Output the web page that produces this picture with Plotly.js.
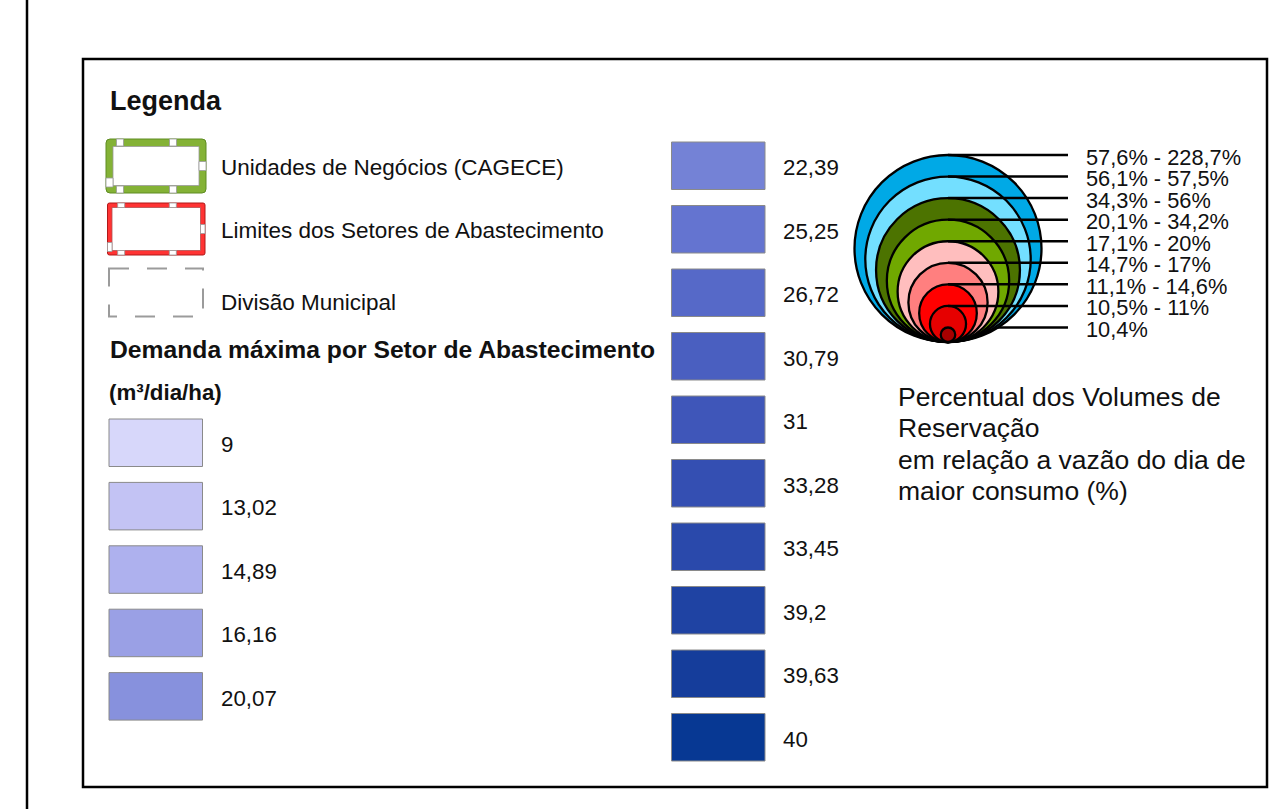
<!DOCTYPE html>
<html>
<head>
<meta charset="utf-8">
<script src="https://cdn.plot.ly/plotly-3.0.1.min.js"></script>
<style>
html,body{margin:0;padding:0;background:#fff;overflow:hidden}
#chart{width:1273px;height:809px}
</style>
</head>
<body>
<div id="chart"></div>
<script>
// ---------------- data ----------------
const legendTitle = 'Legenda';
const boundaryLabels = ['Unidades de Negócios (CAGECE)', 'Limites dos Setores de Abastecimento', 'Divisão Municipal'];
const demandTitle = 'Demanda máxima por Setor de Abastecimento';
const demandUnit = '(m³/dia/ha)';
const demandValues = [9, 13.02, 14.89, 16.16, 20.07, 22.39, 25.25, 26.72, 30.79, 31, 33.28, 33.45, 39.2, 39.63, 40];
const demandColors = ['#D7D7FA', '#C3C3F4', '#AEB1EE', '#9AA0E5', '#8791DD',
                      '#7482D6', '#6474D0', '#5669C8', '#4A5FC0', '#3F56B9',
                      '#344FB2', '#2A49AB', '#1F43A3', '#153D9B', '#073893'];
const reservationClasses = ['57,6% - 228,7%', '56,1% - 57,5%', '34,3% - 56%', '20,1% - 34,2%', '17,1% - 20%',
                            '14,7% - 17%', '11,1% - 14,6%', '10,5% - 11%', '10,4%'];
const reservationColors = ['#00A9E6', '#73DFFF', '#4C7300', '#70A800', '#FFBEBE', '#FF7F7F', '#FF0000', '#E60000', '#A80000'];
const reservationTitle = ['Percentual dos Volumes de', 'Reservação', 'em relação a vazão do dia de', 'maior consumo (%)'];

// ---------------- layout helpers ----------------
const FONT = 'Liberation Sans, Arial, Helvetica, sans-serif';
const shapes = [];
const annotations = [];

function txt(x, y, text, size, bold, boxHeight) {
  const a = {
    xref: 'x', yref: 'y', x: x, y: y, text: bold ? '<b>' + text + '</b>' : text,
    showarrow: false, xanchor: 'left', yanchor: 'middle',
    font: {family: FONT, size: size, color: '#111'}
  };
  if (boxHeight) { a.height = boxHeight; a.valign = 'middle'; }
  annotations.push(a);
}
function rect(x0, y0, x1, y1, fill, lineColor, lineWidth, dash) {
  shapes.push({type: 'rect', xref: 'x', yref: 'y', x0: x0, y0: y0, x1: x1, y1: y1,
    fillcolor: fill, line: {color: lineColor, width: lineWidth, dash: dash || 'solid'}, layer: 'above'});
}
function roundRect(x0, y0, x1, y1, r, fill, lineColor, lineWidth) {
  const p = `M${x0 + r},${y0} L${x1 - r},${y0} Q${x1},${y0} ${x1},${y0 + r} L${x1},${y1 - r} Q${x1},${y1} ${x1 - r},${y1} ` +
            `L${x0 + r},${y1} Q${x0},${y1} ${x0},${y1 - r} L${x0},${y0 + r} Q${x0},${y0} ${x0 + r},${y0} Z`;
  shapes.push({type: 'path', xref: 'x', yref: 'y', path: p, fillcolor: fill, line: {color: lineColor, width: lineWidth}, layer: 'above'});
}
function line(x0, y0, x1, y1, color, width) {
  shapes.push({type: 'line', xref: 'x', yref: 'y', x0: x0, y0: y0, x1: x1, y1: y1, line: {color: color, width: width}, layer: 'above'});
}

// ---------------- frames ----------------
line(27, 0, 27, 809, '#000', 2.5);
rect(83, 59, 1267, 787, 'rgba(0,0,0,0)', '#000', 2.5);

// ---------------- legend title ----------------
txt(108, 101, legendTitle, 27, true);

// ---------------- boundary symbols ----------------
// green (CAGECE business units)
roundRect(106, 139, 206, 193, 4, '#84B236', '#5E8C22', 1);
rect(113, 146.5, 199, 185.5, '#FFFFFF', '#9a9a9a', 0.8);
function markers(x0, y0, x1, y1, band) {
  const w = x1 - x0, h = y1 - y0, s = 7;
  [0.14, 0.67].forEach(f => {
    rect(x0 + f * w - s / 2, y0, x0 + f * w + s / 2, y0 + band, '#FFFFFF', '#9a9a9a', 0.8);
    rect(x0 + f * w - s / 2, y1 - band, x0 + f * w + s / 2, y1, '#FFFFFF', '#9a9a9a', 0.8);
  });
  rect(x1 - band, y0 + 0.5 * h - s / 2 - 1, x1, y0 + 0.5 * h + s / 2 + 1, '#FFFFFF', '#9a9a9a', 0.8);
  rect(x0, y1 - band - 8, x0 + band, y1 - band + 1, '#FFFFFF', '#9a9a9a', 0.8);
}
markers(106, 139, 206, 193, 7);
// red (supply sector limits)
roundRect(107.5, 203, 205, 255, 2, '#FF3333', '#B01818', 1);
rect(112, 207.5, 200.5, 250.5, '#FFFFFF', '#b05050', 0.8);
markers(107.5, 203, 205, 255, 4.5);
// dashed grey (municipal division)
rect(109, 268.5, 203, 316.5, 'rgba(0,0,0,0)', '#9b9b9b', 2, '20px,18px');

txt(219, 167, boundaryLabels[0], 22.5);
txt(219, 230, boundaryLabels[1], 22.5);
txt(219, 302, boundaryLabels[2], 22.5);

// ---------------- demand classes ----------------
txt(108, 349, demandTitle, 24.7, true);
txt(107, 392, demandUnit, 22.3, true);

const fmt = v => String(v).replace('.', ',');
demandValues.forEach((v, i) => {
  let x0, top, labelX;
  if (i < 5) { x0 = 109; top = 419 + i * 63.4; labelX = 219; }
  else { x0 = 671.5; top = 142 + (i - 5) * 63.5; labelX = 781; }
  rect(x0, top, x0 + 93.5, top + 47.5, demandColors[i], '#8a8a8a', 1);
  txt(labelX, top + 25.5, fmt(v), 22.3);
});

// ---------------- reservation circles ----------------
const cx = 948, base = 342, rMax = 93.5, rStep = 10.78, lineEnd = 1068;
// smallest class line lies under the circles
(function () {
  const i = reservationClasses.length - 1;
  const top = base - 2 * (rMax - i * rStep);
  line(cx, top, lineEnd, top, '#000', 2.5);
})();
reservationClasses.forEach((lab, i) => {
  const r = rMax - i * rStep;
  shapes.push({type: 'circle', xref: 'x', yref: 'y', x0: cx - r, x1: cx + r, y0: base - 2 * r, y1: base,
    fillcolor: reservationColors[i], line: {color: '#000', width: 2.3}, layer: 'above'});
});
reservationClasses.forEach((lab, i) => {
  const top = base - 2 * (rMax - i * rStep);
  if (i < reservationClasses.length - 1) line(cx, top, lineEnd, top, '#000', 2.5);
  txt(1084, top + 2, lab, 21.8, false, 21);
});
reservationTitle.forEach((t, i) => txt(896, 396 + i * 31.5, t, 26.5, false, 31));

// ---------------- render ----------------
const layout = {
  width: 1273, height: 809,
  margin: {l: 0, r: 0, t: 0, b: 0, pad: 0},
  paper_bgcolor: '#FFFFFF', plot_bgcolor: '#FFFFFF',
  showlegend: false,
  xaxis: {range: [0, 1273], visible: false, fixedrange: true},
  yaxis: {range: [809, 0], visible: false, fixedrange: true},
  shapes: shapes,
  annotations: annotations
};
Plotly.newPlot('chart', [{type: 'scatter', x: [], y: [], hoverinfo: 'skip'}], layout,
  {staticPlot: true, displayModeBar: false});
</script>
</body>
</html>
